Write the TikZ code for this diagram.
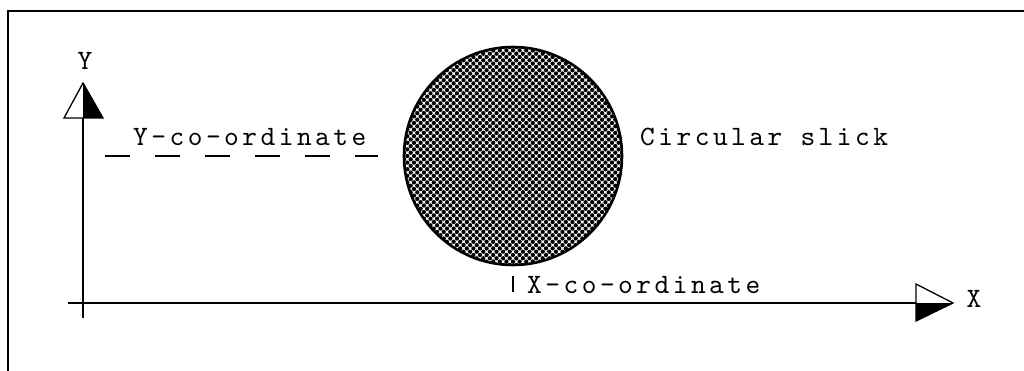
\documentclass[tikz,border=0pt]{standalone}
\usepackage{fontspec}
\newfontfamily\tw{lmmono10-regular.otf}[LetterSpace=12.5]
\begin{document}
\begin{tikzpicture}[x=1pt,y=-1pt,
  lbl/.style={inner sep=0pt, font=\tw\fontsize{28}{28}\selectfont},
  axis/.style={line width=1.6pt},
  half/.style={line width=1.3pt, line join=miter}]
\useasboundingbox (0,0) rectangle (1024,371);
% frame (only top and left edges visible)
\draw[line width=2pt] (8,371) -- (8,11) -- (1024,11);
% axes
\coordinate (yb) at (83,318);
\coordinate (yt) at (83,118);
\coordinate (xl) at (68,303);
\coordinate (xr) at (916,303);
\draw[axis] (yb) -- (yt);
\draw[axis] (xl) -- (xr);
% Y arrow head: left half white, right half black
\fill (83,83) -- (103,118) -- (83,118) -- cycle;
\draw[half] (83,83) -- (103,118) -- (64,118) -- cycle;
% X arrow head: upper half white, lower half black
\fill (953,303) -- (916,321) -- (916,303) -- cycle;
\draw[half] (953,303) -- (916,321) -- (916,284) -- cycle;
\node[lbl, anchor=base] (ylab) at (85,70) {Y};
\node[lbl, anchor=base] (xlab) at (974,307) {X};
% circular slick with dotted fill
\coordinate (c) at (513,156);
\begin{scope}
  \clip (c) circle[radius=109];
  \foreach \i in {-34,...,34}{
    \foreach \j in {-34,...,34}{
      \pgfmathtruncatemacro{\p}{mod(\i+\j+200,2)}
      \ifnum\p=0
        \fill (513+3.3*\i,156+3.3*\j) circle[radius=2.15];
      \fi
    }
  }
\end{scope}
\draw[line width=2.6pt] (c) circle[radius=109];
% labels
\node[lbl, anchor=base west] (ycoord) at (133,146) {Y-co-ordinate};
\draw[line width=1.6pt, dash pattern=on 25pt off 25pt] (105,156) -- (378,156);
\node[lbl, anchor=base west] (slick) at (640,146) {Circular slick};
\draw[line width=1.6pt] (513,276) -- (513,292);
\node[lbl, anchor=base west] (xcoord) at (527,293) {X-co-ordinate};
\end{tikzpicture}
\end{document}
